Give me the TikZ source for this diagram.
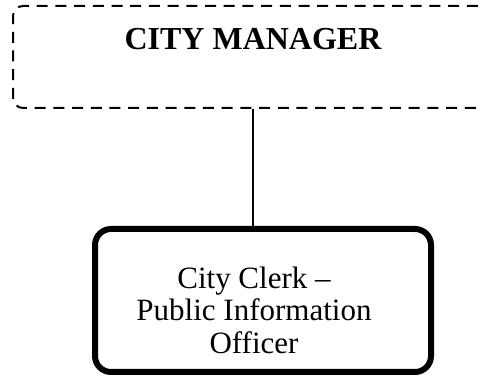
\documentclass[tikz,border=0pt]{standalone}
\usepackage{fontspec}
\setmainfont{Liberation Serif}

\begin{document}
\begin{tikzpicture}[x=1pt,y=-1pt,
    managerbox/.style={draw,line width=2pt,dash pattern=on 11pt off 7.7pt,rounded corners=10pt,inner sep=0pt},
    clerkbox/.style={draw,line width=6pt,rounded corners=16pt,inner sep=0pt},
    link/.style={draw,line width=1.5pt}]
    \useasboundingbox (0,0) rectangle (483,379);
    \clip (0,0) rectangle (483,379);
    % dashed top box runs off the right edge
    \node[managerbox,minimum width=587pt,minimum height=102pt] (managerframe) at (306.5,57) {};
    \node[anchor=base,font=\fontsize{32}{38}\selectfont\bfseries] (manager) at (253,50) {CITY MANAGER};
    \node[clerkbox,minimum width=336pt,minimum height=143pt] (clerkframe) at (263,300.5) {};
    \node[align=center,inner sep=0pt,font=\fontsize{31}{32.5}\selectfont] (clerk) at (254,310) {City Clerk --\\Public Information\\Officer};
    \draw[link] (managerframe.south -| manager) -- (clerkframe.north -| manager);
\end{tikzpicture}
\end{document}
